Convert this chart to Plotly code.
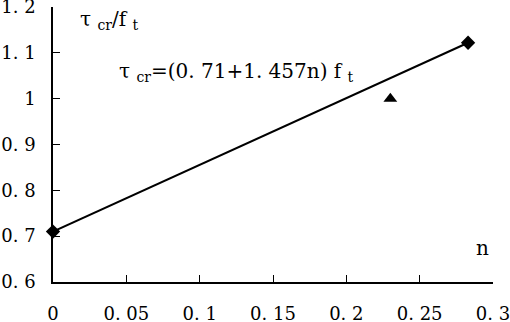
import plotly.graph_objects as go

# Data
fit_n = [0.0, 0.283]
fit_ratio = [0.71, 1.122]
test_n = [0.23]
test_ratio = [1.0]

x_ticks = [0, 0.05, 0.1, 0.15, 0.2, 0.25, 0.3]
x_ticktext = ["0", "0. 05", "0. 1", "0. 15", "0. 2", "0. 25", "0. 3"]
y_ticks = [0.6, 0.7, 0.8, 0.9, 1.0, 1.1, 1.2]
y_ticktext = ["0. 6", "0. 7", "0. 8", "0. 9", "1", "1. 1", "1. 2"]

FONT = "DejaVu Serif"

fig = go.Figure()
fig.add_trace(go.Scatter(
    x=fit_n, y=fit_ratio, mode="lines+markers",
    line=dict(color="black", width=2),
    marker=dict(symbol="diamond", size=11, color="black"),
    showlegend=False, cliponaxis=False))
fig.add_trace(go.Scatter(
    x=test_n, y=test_ratio, mode="markers",
    marker=dict(symbol="triangle-up", size=12, color="black"),
    showlegend=False, cliponaxis=False))

fig.update_layout(
    width=510, height=322,
    margin=dict(l=53, r=17, t=7, b=40, autoexpand=False),
    plot_bgcolor="white", paper_bgcolor="white",
    font=dict(family=FONT, color="black", size=18),
    xaxis=dict(range=[0, 0.3], tickvals=x_ticks, ticktext=x_ticktext,
               showgrid=False, zeroline=False, showline=True, automargin=False,
               linecolor="black", linewidth=1.5, ticks="inside",
               ticklen=7, tickcolor="black", tickwidth=1.2,
               ticklabelstandoff=15, ticklabeloverflow="allow",
               tickfont=dict(size=18, family=FONT)),
    yaxis=dict(range=[0.6, 1.2], tickvals=y_ticks, ticktext=y_ticktext,
               showgrid=False, zeroline=False, showline=True, automargin=False,
               linecolor="black", linewidth=1.5, ticks="inside",
               ticklen=7, tickcolor="black", tickwidth=1.2,
               ticklabelstandoff=12, ticklabeloverflow="allow",
               tickfont=dict(size=18, family=FONT)),
    annotations=[
        dict(x=0.017, y=1.172, xref="x", yref="y", xanchor="left", yanchor="middle",
             text="τ <sub>cr</sub>/f <sub>t</sub>", showarrow=False,
             font=dict(size=20, family=FONT)),
        dict(x=0.0436, y=1.058, xref="x", yref="y", xanchor="left", yanchor="middle",
             text="τ <sub>cr</sub>=(0. 71+1. 457n) f <sub>t</sub>", showarrow=False,
             font=dict(size=20, family=FONT)),
        dict(x=0.2925, y=0.674, xref="x", yref="y", xanchor="center", yanchor="middle",
             text="n", showarrow=False, font=dict(size=20, family=FONT)),
    ],
)

fig.write_html("out.html", config={"displayModeBar": False},
               post_script="document.body.style.margin='0';")
